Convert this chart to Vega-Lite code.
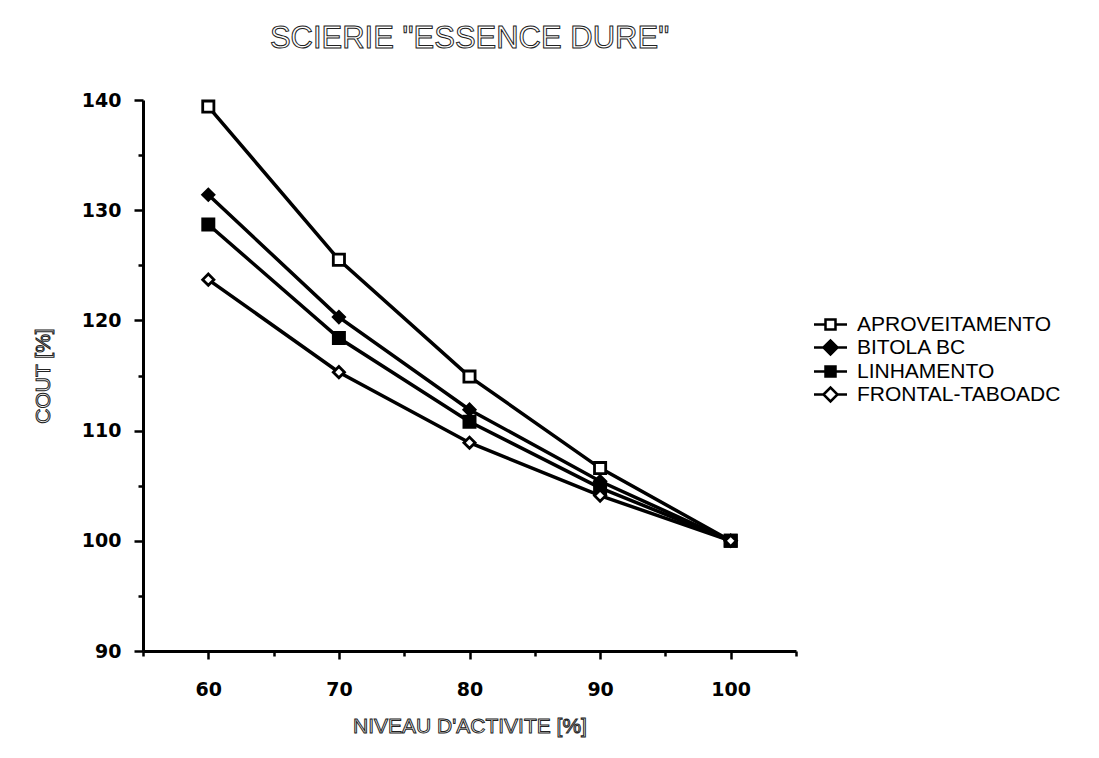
{
  "$schema": "https://vega.github.io/schema/vega-lite/v6.json",
  "autosize": {"type": "none"},
  "padding": {"left": 143, "top": 100, "right": 303, "bottom": 107},
  "width": 653,
  "height": 551,
  "background": "white",
  "title": {
    "text": "SCIERIE \"ESSENCE DURE\"",
    "font": "Liberation Sans",
    "fontSize": 31,
    "fontWeight": "normal",
    "anchor": "middle",
    "offset": 36,
    "color": "#222",
    "encode": {"title": {"update": {"fill": {"value": "white"}, "stroke": {"value": "#222"}, "strokeWidth": {"value": 1}}}}
  },
  "config": {
    "view": {"stroke": null},
    "axis": {
      "grid": false,
      "domainColor": "black",
      "domainWidth": 3,
      "tickColor": "black",
      "tickWidth": 2.5,
      "labelFont": "DejaVu Sans",
      "labelFontWeight": "bold",
      "labelFontSize": 19,
      "labelColor": "black",
      "titleFont": "Liberation Sans",
      "titleFontSize": 21,
      "titleFontWeight": "normal",
      "titleColor": "#222"
    }
  },
  "data": {
    "values": [
      {"serie": "APROVEITAMENTO", "niveau": 60, "cout": 139.4},
      {"serie": "APROVEITAMENTO", "niveau": 70, "cout": 125.5},
      {"serie": "APROVEITAMENTO", "niveau": 80, "cout": 114.9},
      {"serie": "APROVEITAMENTO", "niveau": 90, "cout": 106.6},
      {"serie": "APROVEITAMENTO", "niveau": 100, "cout": 100},
      {"serie": "BITOLA BC", "niveau": 60, "cout": 131.4},
      {"serie": "BITOLA BC", "niveau": 70, "cout": 120.3},
      {"serie": "BITOLA BC", "niveau": 80, "cout": 111.9},
      {"serie": "BITOLA BC", "niveau": 90, "cout": 105.4},
      {"serie": "BITOLA BC", "niveau": 100, "cout": 100},
      {"serie": "LINHAMENTO", "niveau": 60, "cout": 128.7},
      {"serie": "LINHAMENTO", "niveau": 70, "cout": 118.4},
      {"serie": "LINHAMENTO", "niveau": 80, "cout": 110.8},
      {"serie": "LINHAMENTO", "niveau": 90, "cout": 104.8},
      {"serie": "LINHAMENTO", "niveau": 100, "cout": 100},
      {"serie": "FRONTAL-TABOADC", "niveau": 60, "cout": 123.7},
      {"serie": "FRONTAL-TABOADC", "niveau": 70, "cout": 115.3},
      {"serie": "FRONTAL-TABOADC", "niveau": 80, "cout": 108.9},
      {"serie": "FRONTAL-TABOADC", "niveau": 90, "cout": 104.1},
      {"serie": "FRONTAL-TABOADC", "niveau": 100, "cout": 100}
    ]
  },
  "encoding": {
    "x": {
      "field": "niveau", "type": "quantitative",
      "scale": {"domain": [55, 105], "nice": false, "zero": false},
      "axis": {
        "title": "NIVEAU D'ACTIVITE [%]",
        "values": [55, 60, 65, 70, 75, 80, 85, 90, 95, 100, 105],
        "labelExpr": "datum.value % 10 === 0 && datum.value >= 60 && datum.value <= 100 ? datum.label : ''",
        "tickSize": {"condition": {"test": "datum.value % 10 === 0", "value": 8}, "value": 5},
        "labelPadding": 21,
        "titlePadding": 16,
        "encoding": {"title": {"fill": {"value": "white"}, "stroke": {"value": "#222"}, "strokeWidth": {"value": 1}}}
      }
    },
    "y": {
      "field": "cout", "type": "quantitative",
      "scale": {"domain": [90, 140], "nice": false, "zero": false},
      "axis": {
        "title": "COUT [%]",
        "values": [90, 95, 100, 105, 110, 115, 120, 125, 130, 135, 140],
        "labelExpr": "datum.value % 10 === 0 ? datum.label : ''",
        "tickSize": {"condition": {"test": "datum.value % 10 === 0", "value": 9}, "value": 5},
        "labelPadding": 13,
        "titlePadding": 28,
        "encoding": {"title": {"fill": {"value": "white"}, "stroke": {"value": "#222"}, "strokeWidth": {"value": 1}}}
      }
    }
  },
  "layer": [
    {
      "mark": {"type": "line", "color": "black", "strokeWidth": 3.5},
      "encoding": {"detail": {"field": "serie"}}
    },
    {
      "mark": {"type": "point", "filled": true, "stroke": "black", "strokeWidth": 2.8, "size": 125, "opacity": 1},
      "encoding": {
        "shape": {
          "field": "serie", "type": "nominal",
          "scale": {"domain": ["BITOLA BC", "APROVEITAMENTO", "LINHAMENTO", "FRONTAL-TABOADC"], "range": ["diamond", "square", "square", "diamond"]},
          "legend": null
        },
        "fill": {
          "field": "serie", "type": "nominal",
          "scale": {"domain": ["APROVEITAMENTO", "BITOLA BC", "LINHAMENTO", "FRONTAL-TABOADC"], "range": ["white", "black", "black", "white"]},
          "legend": {
            "title": null,
            "orient": "none",
            "legendX": 661,
            "legendY": 214,
            "labelFont": "Liberation Sans",
            "labelFontSize": 21,
            "labelColor": "black",
            "labelLimit": 0,
            "rowPadding": 0,
            "symbolSize": 100,
            "labelOffset": 16,
            "symbolOffset": 16,
            "encoding": {
              "symbols": {
                "shape": {"value": {"expr": "(datum.value === 'APROVEITAMENTO' || datum.value === 'LINHAMENTO') ? 'M-3.3,0L-1,0M1,0L3.3,0M-1,-1L1,-1L1,1L-1,1Z' : 'M-3.3,0L-1.4,0M1.4,0L3.3,0M-1.4,0L0,-1.4L1.4,0L0,1.4Z'"}},
                "size": {"value": 100},
                "stroke": {"value": "black"},
                "strokeWidth": {"value": 2.5},
                "opacity": {"value": 1}
              }
            }
          }
        }
      }
    }
  ]
}
